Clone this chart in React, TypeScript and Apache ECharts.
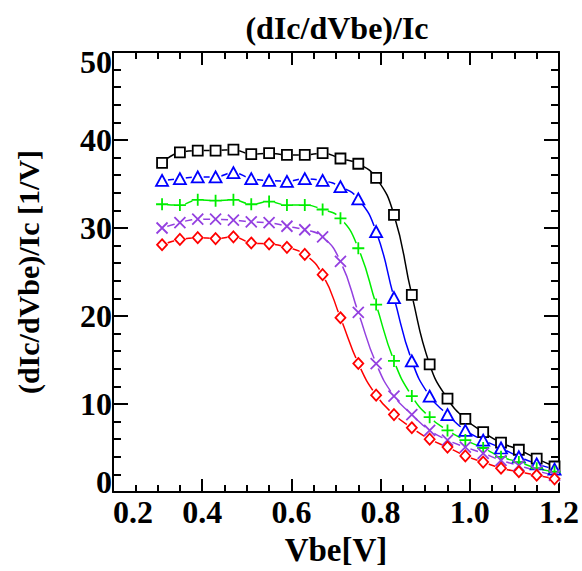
import React, { useEffect, useRef } from "react";
import * as echarts from "echarts";

const vbe = [0.31, 0.35, 0.39, 0.43, 0.47, 0.51, 0.55, 0.59, 0.63, 0.67, 0.71, 0.75, 0.79, 0.83, 0.87, 0.91, 0.95, 0.99, 1.03, 1.07, 1.11, 1.15, 1.19];

const blackSq = [37.4, 38.6, 38.8, 38.8, 38.9, 38.4, 38.5, 38.3, 38.3, 38.5, 37.9, 37.3, 35.7, 31.5, 22.4, 14.5, 10.6, 8.3, 6.8, 5.6, 4.8, 3.8, 2.9];
const blueTri = [35.4, 35.6, 35.8, 35.8, 36.3, 35.6, 35.4, 35.3, 35.6, 35.4, 34.7, 33.3, 29.6, 22.1, 14.9, 10.9, 8.8, 7.0, 5.9, 5.0, 4.0, 3.2, 2.6];
const greenPlus = [32.7, 32.6, 33.2, 33.1, 33.2, 32.7, 33.0, 32.6, 32.6, 32.1, 31.1, 27.7, 21.3, 14.9, 10.9, 8.5, 7.0, 5.9, 5.0, 4.0, 3.4, 2.7, 2.3];
const purpleX = [30.0, 30.6, 31.0, 31.0, 30.9, 30.7, 30.6, 30.2, 29.8, 29.0, 26.2, 20.4, 14.6, 10.9, 8.8, 7.0, 5.9, 5.1, 4.4, 3.6, 3.0, 2.4, 1.9];
const redDia = [28.1, 28.7, 28.9, 28.8, 29.0, 28.3, 28.2, 27.8, 27.0, 24.7, 19.8, 14.6, 11.0, 8.8, 7.3, 6.0, 5.1, 4.1, 3.4, 2.7, 2.3, 1.9, 1.5];

const xTicks = [0.2, 0.4, 0.6, 0.8, 1.0, 1.2];
const yTicks = [0, 10, 20, 30, 40, 50];

const FONT = "'Liberation Serif', 'Times New Roman', serif";

const PLUS = "path://M0,6L12,6M6,0L6,12";
const CROSS = "path://M0,0L12,12M12,0L0,12";

const seriesDefs = [
  { name: "sq", data: blackSq, color: "#000000", symbol: "rect", size: 10, halo: 12 },
  { name: "tri", data: blueTri, color: "#0000ff", symbol: "triangle", size: [12, 11], halo: 12 },
  { name: "plus", data: greenPlus, color: "#00ee00", symbol: PLUS, size: 12, halo: 11 },
  { name: "x", data: purpleX, color: "#9440e0", symbol: CROSS, size: 11, halo: 11 },
  { name: "dia", data: redDia, color: "#ff0000", symbol: "diamond", size: [10, 11], halo: 12 },
];

export default function App() {
  const ref = useRef<HTMLDivElement>(null);
  useEffect(() => {
    if (!ref.current) return;
    const chart = echarts.init(ref.current, undefined, { renderer: "svg" });
    const pts = (d: number[]) => vbe.map((x, i) => [x, d[i]]);

    const lines = seriesDefs.map((s) => ({
      type: "line",
      name: s.name + "-line",
      data: pts(s.data),
      smooth: 0.5,
      showSymbol: false,
      symbol: "none",
      lineStyle: { color: s.color, width: 1.5 },
      z: 2,
    }));
    const halos = seriesDefs.map((s) => ({
      type: "scatter",
      name: s.name + "-halo",
      data: pts(s.data),
      symbol: "circle",
      symbolSize: s.halo,
      itemStyle: { color: "#ffffff", opacity: 1 },
      z: 3,
      silent: true,
    }));
    const marks = seriesDefs.map((s) => ({
      type: "scatter",
      name: s.name,
      data: pts(s.data),
      symbol: s.symbol,
      symbolSize: s.size,
      itemStyle: { color: "#ffffff", borderColor: s.color, borderWidth: 1.8, opacity: 1 },
      z: 4,
    }));

    const labelStyle = {
      fontFamily: FONT,
      fontWeight: "bold" as const,
      fontSize: 32,
      color: "#000",
    };
    const axisLine = { show: true, onZero: false, lineStyle: { color: "#000", width: 2 } };
    const axisTick = { show: true, inside: true, length: 13, lineStyle: { color: "#000", width: 2 } };

    chart.setOption({
      animation: false,
      backgroundColor: "#ffffff",
      title: {
        text: "(dIc/dVbe)/Ic",
        left: 337,
        top: 12,
        textAlign: "center",
        padding: 0,
        textStyle: { ...labelStyle, fontSize: 32 },
      },
      grid: { left: 113, right: 22, top: 52, bottom: 76, containLabel: false },
      xAxis: [
        {
          type: "value",
          position: "bottom",
          min: xTicks[0],
          max: xTicks[xTicks.length - 1],
          interval: 0.2,
          axisLine,
          axisTick,
          minorTick: { show: true, splitNumber: 4, length: 7, lineStyle: { color: "#000", width: 2 } },
          splitLine: { show: false },
          axisLabel: {
            ...labelStyle,
            margin: 4,
            formatter: (v: number) => v.toFixed(1),
            alignMinLabel: "left",
            showMinLabel: true,
            showMaxLabel: true,
          },
          name: "Vbe[V]",
          nameLocation: "middle",
          nameGap: 41,
          nameTextStyle: { ...labelStyle, fontSize: 33 },
        },
        {
          type: "value",
          position: "top",
          min: xTicks[0],
          max: xTicks[xTicks.length - 1],
          interval: 0.2,
          axisLine,
          axisTick,
          minorTick: { show: true, splitNumber: 4, length: 7, lineStyle: { color: "#000", width: 2 } },
          splitLine: { show: false },
          axisLabel: { show: false },
        },
      ],
      yAxis: [
        {
          type: "value",
          position: "left",
          min: yTicks[0],
          max: yTicks[yTicks.length - 1],
          interval: 10,
          axisLine,
          axisTick: { ...axisTick, length: 15 },
          minorTick: { show: true, splitNumber: 5, length: 8, lineStyle: { color: "#000", width: 2 } },
          splitLine: { show: false },
          axisLabel: {
            ...labelStyle,
            lineHeight: 20,
            margin: 1,
            verticalAlignMinLabel: "bottom",
            verticalAlignMaxLabel: "top",
            showMinLabel: true,
            showMaxLabel: true,
          },
          name: "(dIc/dVbe)/Ic [1/V]",
          nameLocation: "middle",
          nameGap: 70,
          nameTextStyle: { ...labelStyle, fontSize: 30 },
        },
        {
          type: "value",
          position: "right",
          min: yTicks[0],
          max: yTicks[yTicks.length - 1],
          interval: 10,
          axisLine,
          axisTick: { ...axisTick, length: 15 },
          minorTick: { show: true, splitNumber: 5, length: 8, lineStyle: { color: "#000", width: 2 } },
          splitLine: { show: false },
          axisLabel: { show: false },
        },
      ],
      series: [...lines, ...halos, ...marks],
    });
    return () => chart.dispose();
  }, []);
  return <div ref={ref} style={{ width: 582, height: 571, position: "absolute", left: 0, top: 0 }} />;
}
